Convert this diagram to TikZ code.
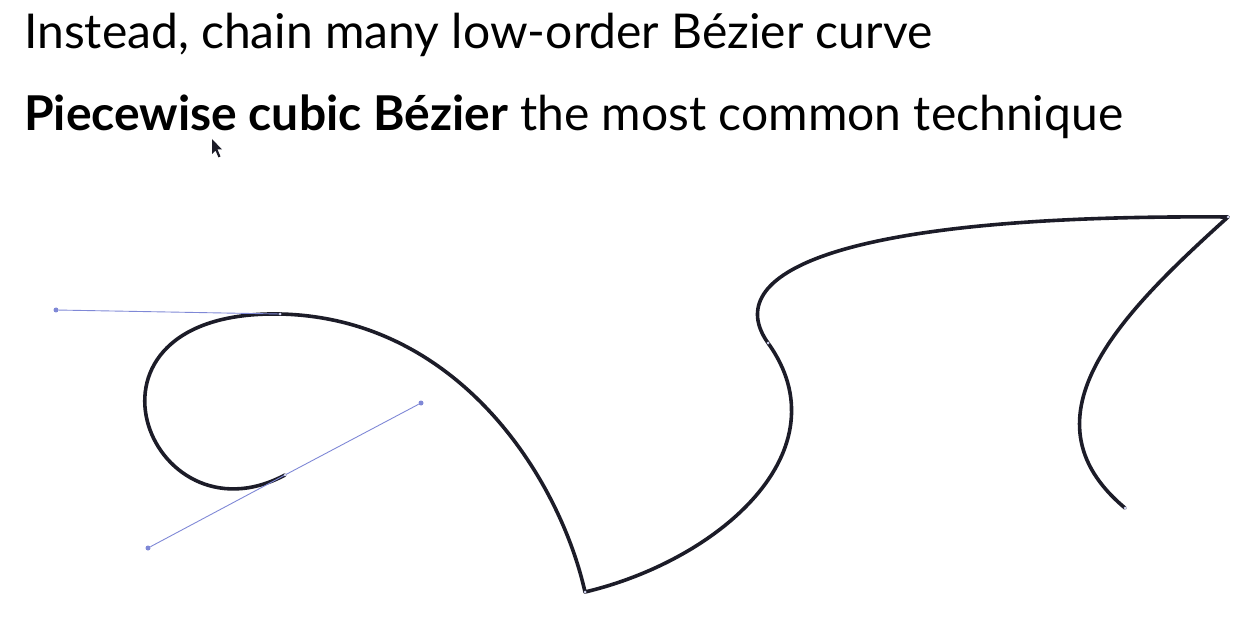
\documentclass[tikz,border=0pt]{standalone}
\usepackage{fontspec}
\setmainfont{Lato}
\usetikzlibrary{positioning}

\definecolor{curveink}{HTML}{1C1C28}
\definecolor{handleblue}{HTML}{7F88D6}

\begin{document}
\begin{tikzpicture}[x=1pt,y=-1pt,
  curve/.style={line width=3.6pt, color=curveink, line join=round, line cap=round},
  handle/.style={line width=0.9pt, color=handleblue},
  knob/.style={circle, fill=handleblue, inner sep=0pt, minimum size=5pt},
  anchorpt/.style={circle, fill=handleblue!35, inner sep=0pt, minimum size=3pt},
  title/.style={anchor=base west, inner sep=0pt, font=\fontsize{48}{54}\selectfont}]
  \useasboundingbox (0,0) rectangle (1241,617);

  % Texte
  \node[title] (line1) at (24,49) {Instead, chain many low-order Bézier curve};
  \node[title] (line2) at (24,131) {\textbf{Piecewise cubic Bézier} the most common technique};

  % Ankerpunkte
  \coordinate (start) at (285,475);
  \coordinate (top) at (280,314);
  \coordinate (cusp) at (585,592);
  \coordinate (bend) at (768,343);
  \coordinate (corner) at (1228,217);
  \coordinate (tail) at (1125,508);

  % Griffe
  \node[knob] (h0) at (56,310) {};
  \node[knob] (h1) at (148,548) {};
  \node[knob] (h2) at (421,403) {};

  % Kurve
  \draw[curve] (start) .. controls (h1.center) and (h0.center) .. (top)
    .. controls (460,318) and (560,480) .. (cusp)
    .. controls (720,560) and (845,450) .. (bend)
    .. controls (720,275) and (830,214) .. (corner)
    .. controls (1124,311) and (1016,417) .. (tail);

  \draw[handle] (h0) -- (top);
  \draw[handle] (h1) -- (start) -- (h2);

  \foreach \p in {top,start,cusp,bend,corner,tail}
    \node[anchorpt] at (\p) {};

  % Mauszeiger
  \fill[curveink] (212,139) -- (212,154) -- (215.5,150.5) -- (218.5,157.5)
    -- (220.5,156.5) -- (217.5,149.5) -- (222,149.5) -- cycle;
\end{tikzpicture}
\end{document}
